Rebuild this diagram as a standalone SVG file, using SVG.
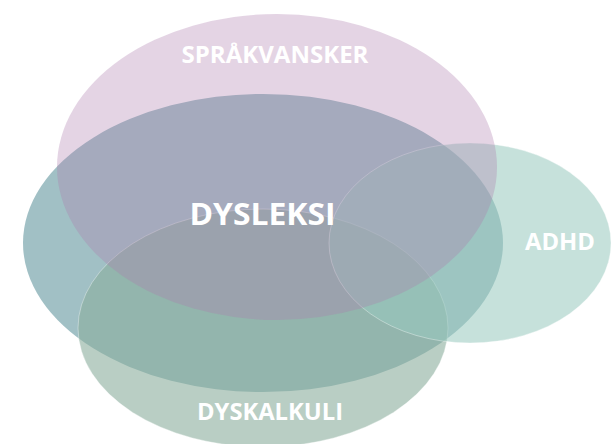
<svg xmlns="http://www.w3.org/2000/svg" width="611" height="444" viewBox="0 0 611 444">
<style>
.lbl{font-family:"Open Sans","Liberation Sans",sans-serif;font-weight:bold;fill:#ffffff;text-anchor:middle}
.edge{stroke:#ffffff;stroke-opacity:0.45;stroke-width:0.8}
</style>
<rect width="611" height="444" fill="#ffffff"/>
<g id="dysleksi">
<ellipse cx="263" cy="243" rx="240" ry="149" fill="#a1c0c5"/>
</g>
<g id="dyskalkuli">
<ellipse class="edge" cx="263" cy="328" rx="185" ry="119" fill="rgb(138,173,157)" fill-opacity="0.6"/>
</g>
<g id="adhd">
<ellipse class="edge" cx="470" cy="243" rx="141" ry="100" fill="rgb(154,202,191)" fill-opacity="0.56"/>
</g>
<g id="sprakvansker">
<ellipse cx="277" cy="167" rx="220" ry="153" fill="rgb(173,125,173)" fill-opacity="0.33"/>
</g>
<g id="connectors"></g>
<g id="labels">
<text class="lbl" x="275" y="63" font-size="23" textLength="187" lengthAdjust="spacingAndGlyphs">SPRÅKVANSKER</text>
<text class="lbl" x="262.5" y="225" font-size="31" textLength="146" lengthAdjust="spacingAndGlyphs">DYSLEKSI</text>
<text class="lbl" x="560" y="249.5" font-size="23" textLength="70" lengthAdjust="spacingAndGlyphs">ADHD</text>
<text class="lbl" x="270" y="419.5" font-size="23" textLength="146" lengthAdjust="spacingAndGlyphs">DYSKALKULI</text>
</g>
</svg>
